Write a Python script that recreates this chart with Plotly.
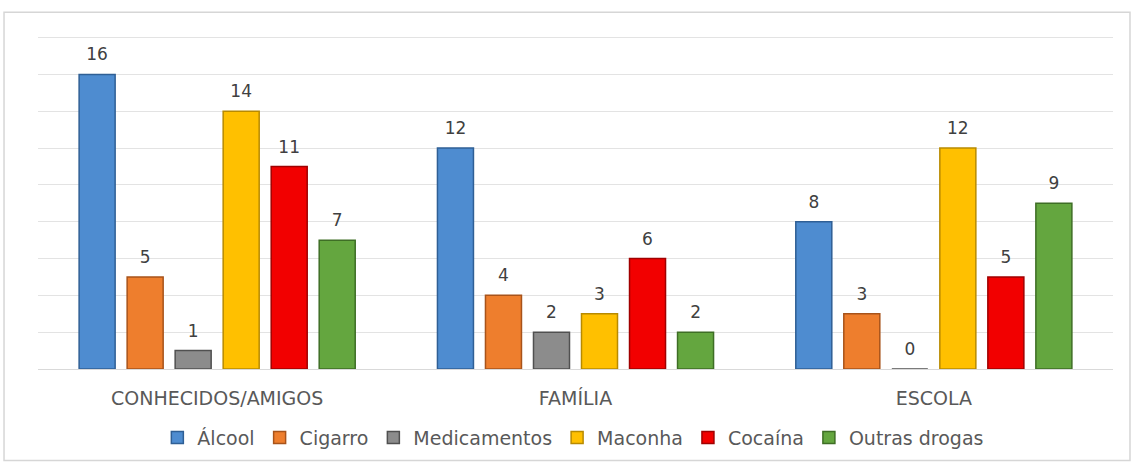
import plotly.graph_objects as go

categories = ["CONHECIDOS/AMIGOS", "FAMÍLIA", "ESCOLA"]
series_names = ["Álcool", "Cigarro", "Medicamentos", "Maconha", "Cocaína", "Outras drogas"]
alcool = [16, 12, 8]
cigarro = [5, 4, 3]
medicamentos = [1, 2, 0]
maconha = [14, 3, 12]
cocaina = [11, 6, 5]
outras = [7, 2, 9]
series_values = [alcool, cigarro, medicamentos, maconha, cocaina, outras]
colors = ["#4E8CD0", "#EE7E2D", "#8C8C8C", "#FFC000", "#F20000", "#64A63F"]
edges = ["#2F5F95", "#A8531A", "#505050", "#B88A00", "#A00000", "#3E6E25"]

FONT = "DejaVu Sans, Verdana, sans-serif"

fig = go.Figure()
for name, vals, c, e in zip(series_names, series_values, colors, edges):
    fig.add_trace(go.Bar(
        x=categories, y=vals, name=name,
        marker=dict(color=c, line=dict(color=e, width=1.5)),
    ))
for name, vals in zip(series_names, series_values):
    fig.add_trace(go.Scatter(
        x=categories, y=vals, mode="markers+text", showlegend=False,
        marker=dict(size=14, color="rgba(0,0,0,0)"),
        text=[str(v) for v in vals], textposition="top center",
        textfont=dict(size=17, color="#404040", family=FONT),
        cliponaxis=False, hoverinfo="skip", name=name,
    ))

fig.update_layout(
    width=1132, height=469,
    margin=dict(l=38, r=19, t=34, b=98),
    paper_bgcolor="white", plot_bgcolor="white",
    barmode="group", bargap=0.196, bargroupgap=0.25,
    scattermode="group", scattergap=0.196,
    font=dict(family=FONT, color="#595959"),
    xaxis=dict(showline=True, linecolor="#D9D9D9", linewidth=1, ticks="",
               tickfont=dict(size=19, color="#595959"), ticklabelstandoff=12),
    yaxis=dict(range=[0, 18.2], dtick=2, showticklabels=False, showgrid=True,
               gridcolor="#E3E3E3", gridwidth=1, zeroline=False, fixedrange=True),
    legend=dict(orientation="h", x=0.498, xanchor="center", y=-0.205, yanchor="middle",
                font=dict(size=19, color="#595959"), itemwidth=30,
                traceorder="normal", bgcolor="rgba(0,0,0,0)"),
    showlegend=True,
    shapes=[dict(type="rect", xref="paper", yref="paper", x0=-0.0316, x1=1.0158,
                 y0=-0.273, y1=1.065, line=dict(color="#D6D6D6", width=1.5),
                 layer="below")],
)

fig.write_html("out.html", config={"displayModeBar": False},
               post_script="document.body.style.margin='0';")
